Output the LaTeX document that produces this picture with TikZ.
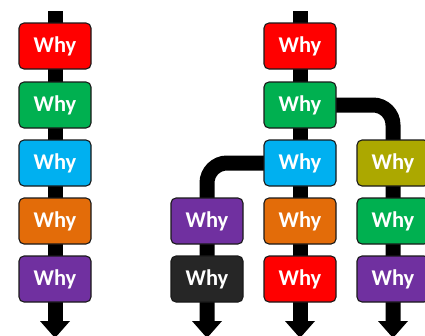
\documentclass[tikz,border=0pt]{standalone}
\usepackage{fontspec}
\setmainfont{Carlito}
\usetikzlibrary{backgrounds}
\definecolor{cred}{HTML}{FF0000}
\definecolor{cgreen}{HTML}{00B050}
\definecolor{cblue}{HTML}{00B0F0}
\definecolor{corange}{HTML}{E36C09}
\definecolor{cpurple}{HTML}{7030A0}
\definecolor{colive}{HTML}{ACA800}
\definecolor{cblack}{HTML}{262626}
\begin{document}
\begin{tikzpicture}[x=1pt,y=-1pt,
  why/.style={draw=black!90,line width=1.1pt,rounded corners=5pt,minimum width=72pt,minimum height=46pt,inner sep=0pt,text=white,font=\fontsize{22.5}{24}\selectfont\bfseries},
  spine/.style={draw=black,line width=15pt},
  bendline/.style={draw=black,line width=15pt,rounded corners=20pt},
  headtip/.style={fill=black}]
\useasboundingbox (0,0) rectangle (425,335);
\clip (0,0) rectangle (425,335);
% left column
\node[why,fill=cred]    (l1) at (55,46) {Why};
\node[why,fill=cgreen]  (l2) at (55,105) {Why};
\node[why,fill=cblue]   (l3) at (55,163) {Why};
\node[why,fill=corange] (l4) at (55,221) {Why};
\node[why,fill=cpurple] (l5) at (55,279) {Why};
% middle column
\node[why,fill=cred]    (m1) at (300,46) {Why};
\node[why,fill=cgreen]  (m2) at (300,105) {Why};
\node[why,fill=cblue]   (m3) at (300,163) {Why};
\node[why,fill=corange] (m4) at (300,221) {Why};
\node[why,fill=cred]    (m5) at (300,279) {Why};
% branch column
\node[why,fill=cpurple] (b4) at (207,221) {Why};
\node[why,fill=cblack]  (b5) at (207,279) {Why};
% right column
\node[why,fill=colive]  (r3) at (393,163) {Why};
\node[why,fill=cgreen]  (r4) at (393,221) {Why};
\node[why,fill=cpurple] (r5) at (393,279) {Why};
% ends
\coordinate (lt) at (55,11);
\coordinate (mt) at (300,11);
\coordinate (la) at (55,321);
\coordinate (ba) at (207,321);
\coordinate (ma) at (300,321);
\coordinate (ra) at (393,321);
\begin{pgfonlayer}{background}
\draw[spine] (lt) -- (la);
\draw[spine] (mt) -- (ma);
\draw[bendline] (m2.center) -| (ra);
\draw[bendline] (m3.center) -| (ba);
\foreach \c in {la,ba,ma,ra}{
  \fill[headtip] ([xshift=-15pt]\c) -- ([xshift=15pt]\c) -- ([yshift=-17pt]\c) -- cycle;
}
\end{pgfonlayer}
\end{tikzpicture}
\end{document}
